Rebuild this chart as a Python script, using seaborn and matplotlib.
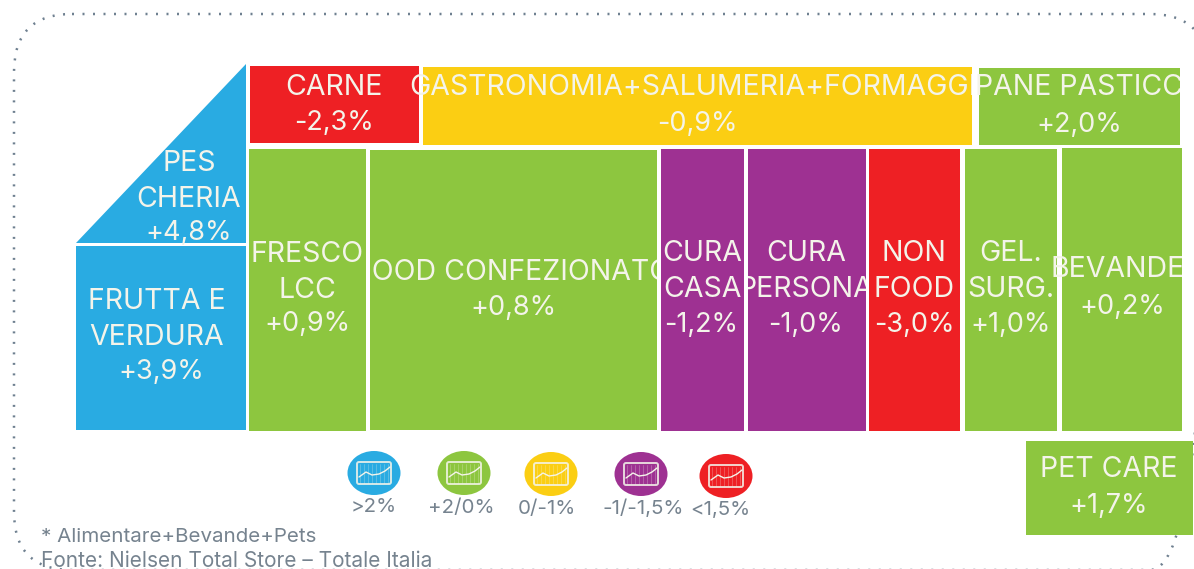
import matplotlib
matplotlib.use("Agg")
from matplotlib import pyplot as plt
from matplotlib.patches import Ellipse, FancyBboxPatch, Polygon, Rectangle
import seaborn as sns

# data
categories = ["CARNE", "GASTRONOMIA+SALUMERIA+FORMAGGI", "PANE PASTICCERIA",
              "PES\nCHERIA", "FRUTTA E\nVERDURA", "FRESCO\nLCC", "FOOD CONFEZIONATO",
              "CURA\nCASA", "CURA\nPERSONA", "NON\nFOOD", "GEL.\nSURG.", "BEVANDE", "PET CARE"]
values = [-2.3, -0.9, 2.0, 4.8, 3.9, 0.9, 0.8, -1.2, -1.0, -3.0, 1.0, 0.2, 1.7]
classes = [4, 2, 1, 0, 0, 1, 1, 3, 3, 4, 1, 1, 1]
legend_labels = [">2%", "+2/0%", "0/-1%", "-1/-1,5%", "<1,5%"]
notes = ["* Alimentare+Bevande+Pets", "Fonte: Nielsen Total Store – Totale Italia"]

# layout of the tiles, in pixels of the picture
tile_x0 = [250, 423, 979, 76, 76, 249, 370, 661, 748, 869, 965, 1062, 1026]
tile_x1 = [419, 972, 1180, 246, 246, 366, 657, 744, 866, 960, 1057, 1182, 1193]
tile_y0 = [66, 67, 68, 64, 246, 149, 150, 149, 149, 149, 149, 148, 441]
tile_y1 = [143, 145, 145, 243, 430, 431, 430, 431, 431, 431, 431, 431, 535]
text_x = [334, 693, 1110, 189, 157, 307, 513, 702, 806, 914, 1011, 1118, 1109]
value_x = [334, 697, 1079, 189, 161, 307, 513, 701, 806, 914, 1011, 1122, 1109]
text_y = [87, 87, 87, 163, 301, 254, 272, 253, 253, 253, 253, 269, 469]
value_y = [123, 124, 125, 233, 372, 324, 308, 325, 325, 325, 325, 307, 506]
# how far a label may run past the tile on each side
bleed_l = [0, 25, 5, 0, 0, 3, 0, 0, 0, 4, 3, 10, 0]
bleed_r = [0, 0, 0, 0, 0, 3, 0, 0, 0, 0, 0, 0, 0]
legend_x = [374, 464, 551, 641, 726]
legend_y = [473, 473, 474, 474, 476]
legend_tx = [374, 461, 547, 643, 720]
legend_ty = [507, 508, 509, 509, 510]

palette = sns.color_palette(["#29abe2", "#8dc63f", "#fbce13", "#9e3192", "#ee2024"])
text_col = "#f4f4ea"
grey = "#76838f"

sns.set_theme(style="white")
plt.rcParams["font.family"] = ["Inter", "DejaVu Sans"]

fig = plt.figure(figsize=(11.94, 5.69), dpi=100)
ax = fig.add_axes([0, 0, 1, 1])
ax.set_xlim(0, 1194)
ax.set_ylim(569, 0)
ax.axis("off")

# dotted frame
frame = FancyBboxPatch((72, 72), 1078, 440, boxstyle="round,pad=58,rounding_size=58",
                       fill=False, ec="#6f8090", lw=1.8, ls=(0, (0.8, 3.4)))
ax.add_patch(frame)

for i, name in enumerate(categories):
    col = palette[classes[i]]
    x0, x1, y0, y1 = tile_x0[i], tile_x1[i], tile_y0[i], tile_y1[i]
    if name.startswith("PES"):
        ax.add_patch(Polygon([(x1, y0), (x1, y1), (x0, y1)], color=col, lw=0))
    else:
        ax.bar(x0, y1 - y0, width=x1 - x0, bottom=y0, align="edge", color=col, lw=0)
    clip = Rectangle((x0 - bleed_l[i], y0 - 5), x1 - x0 + bleed_l[i] + bleed_r[i], y1 - y0 + 10,
                     transform=ax.transData)
    lines = name.split("\n")
    for j, line in enumerate(lines):
        t = ax.text(text_x[i], text_y[i] + j * 36, line, ha="center", va="center",
                    color=text_col, fontsize=20.5, zorder=5)
        t.set_clip_path(clip)
        t.set_clip_on(True)
    label = f"{values[i]:+.1f}%".replace(".", ",")
    ax.text(value_x[i], value_y[i], label, ha="center", va="center", color=text_col,
            fontsize=19.5, zorder=5)

# legend icons
spark_dx = [-15, -8, -2, 5, 11, 16]
spark_dy = [4, -1, 2, 1, -2, -6]
bar_dx = [-14, -10, -6, -2, 2, 6, 10, 14]
for i, lab in enumerate(legend_labels):
    cx, cy = legend_x[i], legend_y[i]
    ax.add_patch(Ellipse((cx, cy), 53, 44, color=palette[i], lw=0))
    ax.add_patch(FancyBboxPatch((cx - 16, cy - 10), 32, 20, boxstyle="round,pad=1,rounding_size=2",
                                fill=False, ec=text_col, lw=1.4, alpha=0.85))
    ax.plot([cx + d for d in spark_dx], [cy + d for d in spark_dy], color=text_col, lw=1)
    for d in bar_dx:
        ax.plot([cx + d, cx + d], [cy - 9, cy + 10], color=text_col, lw=0.5, alpha=0.35)
    ax.text(legend_tx[i], legend_ty[i], lab, ha="center", va="center", color=grey, fontsize=14.8)

ax.text(41, 537, notes[0], ha="left", va="center", color=grey, fontsize=14.8)
ax.text(41, 561, notes[1], ha="left", va="center", color=grey, fontsize=15)

fig.savefig("out.png", dpi=100)
